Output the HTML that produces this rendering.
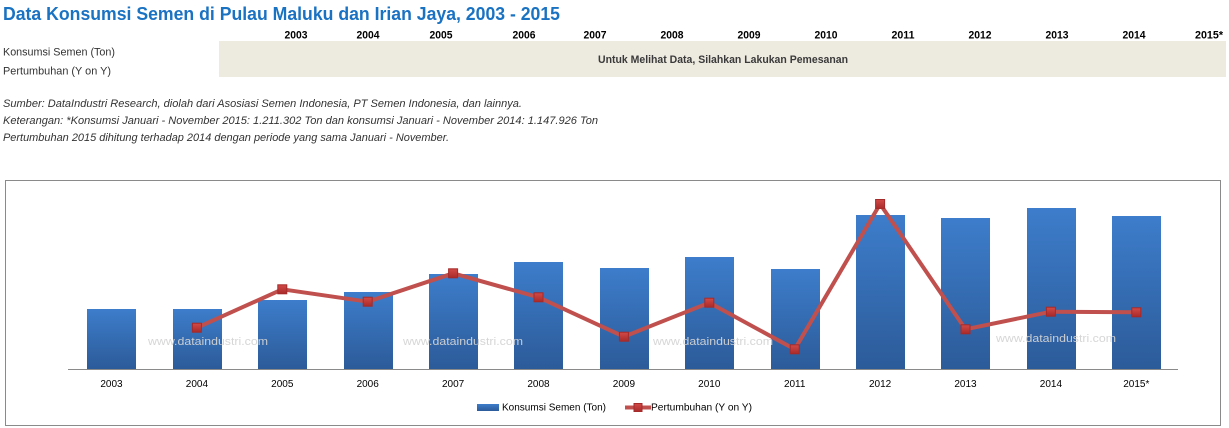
<!DOCTYPE html>
<html><head><meta charset="utf-8"><style>
html,body{margin:0;padding:0;background:#fff;}
svg{display:block;}
</style></head><body>
<svg width="1229" height="428" viewBox="0 0 1229 428" xmlns="http://www.w3.org/2000/svg" font-family="'Liberation Sans', Arial, sans-serif">
<defs>
<linearGradient id="bg" x1="0" y1="0" x2="0" y2="1">
<stop offset="0" stop-color="#3d7dcb"/><stop offset="1" stop-color="#2c5b99"/>
</linearGradient>
<linearGradient id="mg" x1="0" y1="0" x2="0" y2="1">
<stop offset="0" stop-color="#d24a48"/><stop offset="1" stop-color="#a92a2a"/>
</linearGradient>
</defs>
<text x="3" y="20" font-size="18.5" font-weight="bold" fill="#1a72c2" textLength="557" lengthAdjust="spacingAndGlyphs">Data Konsumsi Semen di Pulau Maluku dan Irian Jaya, 2003 - 2015</text>
<g font-size="11" font-weight="bold" fill="#000" text-anchor="middle">
<text x="296" y="38.5" textLength="23" lengthAdjust="spacingAndGlyphs">2003</text>
<text x="368" y="38.5" textLength="23" lengthAdjust="spacingAndGlyphs">2004</text>
<text x="441" y="38.5" textLength="23" lengthAdjust="spacingAndGlyphs">2005</text>
<text x="524" y="38.5" textLength="23" lengthAdjust="spacingAndGlyphs">2006</text>
<text x="595" y="38.5" textLength="23" lengthAdjust="spacingAndGlyphs">2007</text>
<text x="672" y="38.5" textLength="23" lengthAdjust="spacingAndGlyphs">2008</text>
<text x="749" y="38.5" textLength="23" lengthAdjust="spacingAndGlyphs">2009</text>
<text x="826" y="38.5" textLength="23" lengthAdjust="spacingAndGlyphs">2010</text>
<text x="903" y="38.5" textLength="23" lengthAdjust="spacingAndGlyphs">2011</text>
<text x="980" y="38.5" textLength="23" lengthAdjust="spacingAndGlyphs">2012</text>
<text x="1057" y="38.5" textLength="23" lengthAdjust="spacingAndGlyphs">2013</text>
<text x="1134" y="38.5" textLength="23" lengthAdjust="spacingAndGlyphs">2014</text>
<text x="1209" y="38.5" textLength="28" lengthAdjust="spacingAndGlyphs">2015*</text>
</g>
<rect x="219" y="41" width="1007" height="36" fill="#edeae0"/>
<text x="3" y="55.5" font-size="11" fill="#333" textLength="112" lengthAdjust="spacingAndGlyphs">Konsumsi Semen (Ton)</text>
<text x="3" y="74.5" font-size="11" fill="#333" textLength="108" lengthAdjust="spacingAndGlyphs">Pertumbuhan (Y on Y)</text>
<text x="598" y="63" font-size="11" font-weight="bold" fill="#3a3a3a" textLength="250" lengthAdjust="spacingAndGlyphs">Untuk Melihat Data, Silahkan Lakukan Pemesanan</text>
<g font-size="11" font-style="italic" fill="#333">
<text x="3" y="107" textLength="519" lengthAdjust="spacingAndGlyphs">Sumber: DataIndustri Research, diolah dari Asosiasi Semen Indonesia, PT Semen Indonesia, dan lainnya.</text>
<text x="3" y="124" textLength="595" lengthAdjust="spacingAndGlyphs">Keterangan: *Konsumsi Januari - November 2015: 1.211.302 Ton dan konsumsi Januari - November 2014: 1.147.926 Ton</text>
<text x="3" y="141" textLength="446" lengthAdjust="spacingAndGlyphs">Pertumbuhan 2015 dihitung terhadap 2014 dengan periode yang sama Januari - November.</text>
</g>
<rect x="5.5" y="180.5" width="1215" height="245" fill="#fff" stroke="#8a8a8a" stroke-width="1"/>
<g fill="url(#bg)">
<rect x="87" y="309" width="49" height="60"/>
<rect x="173" y="309" width="49" height="60"/>
<rect x="258" y="300" width="49" height="69"/>
<rect x="344" y="292" width="49" height="77"/>
<rect x="429" y="274" width="49" height="95"/>
<rect x="514" y="262" width="49" height="107"/>
<rect x="600" y="268" width="49" height="101"/>
<rect x="685" y="257" width="49" height="112"/>
<rect x="771" y="269" width="49" height="100"/>
<rect x="856" y="215" width="49" height="154"/>
<rect x="941" y="218" width="49" height="151"/>
<rect x="1027" y="208" width="49" height="161"/>
<rect x="1112" y="216" width="49" height="153"/>
</g>
<line x1="68" y1="369.5" x2="1178" y2="369.5" stroke="#8a8a8a" stroke-width="1"/>
<g font-size="11" fill="#d4d4d4" fill-opacity="0.95">
<text x="148" y="345" textLength="120" lengthAdjust="spacingAndGlyphs">www.dataindustri.com</text>
<text x="403" y="345" textLength="120" lengthAdjust="spacingAndGlyphs">www.dataindustri.com</text>
<text x="653" y="345" textLength="120" lengthAdjust="spacingAndGlyphs">www.dataindustri.com</text>
<text x="996" y="342" textLength="120" lengthAdjust="spacingAndGlyphs">www.dataindustri.com</text>
</g>
<polyline fill="none" stroke="#c0504d" stroke-width="4" stroke-linejoin="round" points="196.9,327.7 282.3,289.3 367.7,301.7 453.1,273.3 538.5,297.3 623.9,336.7 709.3,302.7 794.7,349.3 880.1,204 965.5,329.3 1050.9,311.7 1136.3,312.3"/>
<g fill="url(#mg)" stroke="#a52a2a" stroke-width="1">
<rect x="192.4" y="323.2" width="9" height="9"/>
<rect x="277.8" y="284.8" width="9" height="9"/>
<rect x="363.2" y="297.2" width="9" height="9"/>
<rect x="448.6" y="268.8" width="9" height="9"/>
<rect x="534" y="292.8" width="9" height="9"/>
<rect x="619.4" y="332.2" width="9" height="9"/>
<rect x="704.8" y="298.2" width="9" height="9"/>
<rect x="790.2" y="344.8" width="9" height="9"/>
<rect x="875.6" y="199.5" width="9" height="9"/>
<rect x="961" y="324.8" width="9" height="9"/>
<rect x="1046.4" y="307.2" width="9" height="9"/>
<rect x="1131.8" y="307.8" width="9" height="9"/>
</g>
<g font-size="10" fill="#000" text-anchor="middle">
<text x="111.5" y="387">2003</text>
<text x="196.9" y="387">2004</text>
<text x="282.3" y="387">2005</text>
<text x="367.7" y="387">2006</text>
<text x="453.1" y="387">2007</text>
<text x="538.5" y="387">2008</text>
<text x="623.9" y="387">2009</text>
<text x="709.3" y="387">2010</text>
<text x="794.7" y="387">2011</text>
<text x="880.1" y="387">2012</text>
<text x="965.5" y="387">2013</text>
<text x="1050.9" y="387">2014</text>
<text x="1136.3" y="387">2015*</text>
</g>
<rect x="477" y="404" width="22" height="7" fill="url(#bg)"/>
<text x="502" y="410.5" font-size="10" fill="#000" textLength="104" lengthAdjust="spacingAndGlyphs">Konsumsi Semen (Ton)</text>
<line x1="625" y1="407.5" x2="651" y2="407.5" stroke="#c0504d" stroke-width="4"/>
<rect x="634" y="403.5" width="8" height="8" fill="url(#mg)" stroke="#a52a2a" stroke-width="1"/>
<text x="651" y="410.5" font-size="10" fill="#000" textLength="101" lengthAdjust="spacingAndGlyphs">Pertumbuhan (Y on Y)</text>
</svg>
</body></html>
